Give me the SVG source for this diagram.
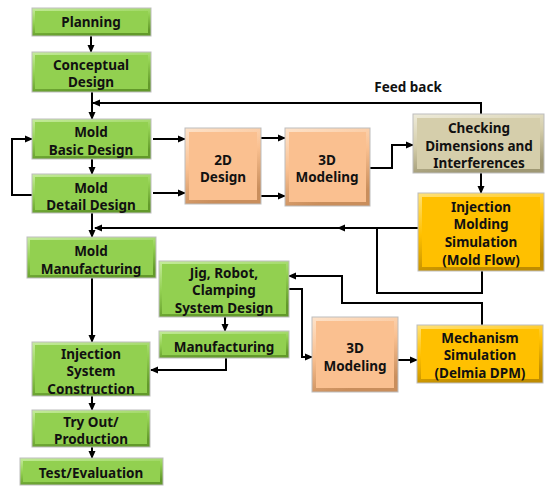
<svg xmlns="http://www.w3.org/2000/svg" width="545" height="486" viewBox="0 0 545 486">
<style>
.t{font-family:"Noto Sans","Open Sans","Liberation Sans",sans-serif;font-weight:bold;font-size:13.5px;fill:#111;text-anchor:middle}
.c{fill:none;stroke:#000;stroke-width:2}
.a{marker-end:url(#ah)}
.in{stroke:none}
.g .o{fill:url(#gg)} .g .in{fill:#92D050}
.or .o{fill:url(#go)} .or .in{fill:#FAC090}
.tn .o{fill:url(#gt)} .tn .in{fill:#D5CEAB}
.y .o{fill:url(#gy)} .y .in{fill:#FFC000}
.o{stroke:#bdbdbd;stroke-width:1}
</style>
<defs>
<marker id="ah" markerWidth="8" markerHeight="8" refX="7" refY="4" orient="auto" markerUnits="userSpaceOnUse">
<path d="M0,0.5 L8,4 L0,7.5 Z" fill="#000"/>
</marker>
<linearGradient id="gg" x1="0" y1="0" x2="0.3" y2="1"><stop offset="0" stop-color="#C6EC9E"/><stop offset="0.5" stop-color="#92D050"/><stop offset="1" stop-color="#62992A"/></linearGradient>
<linearGradient id="go" x1="0" y1="0" x2="0.3" y2="1"><stop offset="0" stop-color="#FDE3CB"/><stop offset="0.5" stop-color="#FAC090"/><stop offset="1" stop-color="#C98E5C"/></linearGradient>
<linearGradient id="gt" x1="0" y1="0" x2="0.3" y2="1"><stop offset="0" stop-color="#EEEBDA"/><stop offset="0.5" stop-color="#D5CEAB"/><stop offset="1" stop-color="#9F9874"/></linearGradient>
<linearGradient id="gy" x1="0" y1="0" x2="0.3" y2="1"><stop offset="0" stop-color="#FFE27A"/><stop offset="0.5" stop-color="#FFC000"/><stop offset="1" stop-color="#BF8C00"/></linearGradient>
</defs>
<rect width="545" height="486" fill="#fff"/>

<g id="connectors">
<path class="c a" d="M91,36 V52"/>
<path class="c a" d="M92,92 V119"/>
<path class="c a" d="M481,114 V103 H93"/>
<path class="c a" d="M92,159 V174"/>
<path class="c a" d="M32,195 H12 V139 H32"/>
<path class="c a" d="M153,139 H185"/>
<path class="c a" d="M153,193 H185"/>
<path class="c a" d="M261,138 H285"/>
<path class="c a" d="M261,196 H285"/>
<path class="c a" d="M370,168 H392 V145 H413"/>
<path class="c a" d="M481,173 V193"/>
<path class="c a" d="M418,228 H338"/>
<path class="c a" d="M339,228 H95"/>
<path class="c" d="M482,271 V293 H377 V228"/>
<path class="c a" d="M92,213 V237"/>
<path class="c a" d="M92,278 V342"/>
<path class="c a" d="M225,317 V331"/>
<path class="c a" d="M226,358 V370 H151"/>
<path class="c a" d="M92,396 V410"/>
<path class="c a" d="M92,447 V458"/>
<path class="c a" d="M482,325 V303 H342 V276 H289"/>
<path class="c a" d="M289,289 H302 V357 H312"/>
<path class="c a" d="M398,360 H417"/>
</g>

<text class="t" x="408" y="92">Feed back</text>

<g id="planning" class="g"><rect class="o" x="32" y="8" width="119" height="28"/><rect class="in" x="35" y="11" width="113" height="22"/><text class="t" x="91" y="27">Planning</text></g>
<g id="conceptual" class="g"><rect class="o" x="32" y="52" width="119" height="40"/><rect class="in" x="35" y="55" width="113" height="34"/><text class="t" x="91" y="70">Conceptual</text><text class="t" x="91" y="87">Design</text></g>
<g id="basic" class="g"><rect class="o" x="32" y="119" width="119" height="40"/><rect class="in" x="35" y="122" width="113" height="34"/><text class="t" x="91" y="137">Mold</text><text class="t" x="91" y="155">Basic Design</text></g>
<g id="detail" class="g"><rect class="o" x="32" y="174" width="119" height="39"/><rect class="in" x="35" y="177" width="113" height="33"/><text class="t" x="91" y="193">Mold</text><text class="t" x="91" y="210">Detail Design</text></g>
<g id="design2d" class="or"><rect class="o" x="185" y="128" width="76" height="76"/><rect class="in" x="189" y="132" width="68" height="68"/><text class="t" x="223" y="165">2D</text><text class="t" x="223" y="182">Design</text></g>
<g id="model3d1" class="or"><rect class="o" x="285" y="128" width="85" height="78"/><rect class="in" x="289" y="132" width="77" height="70"/><text class="t" x="327" y="165">3D</text><text class="t" x="327" y="182">Modeling</text></g>
<g id="checking" class="tn"><rect class="o" x="413" y="114" width="131" height="59"/><rect class="in" x="417" y="118" width="123" height="51"/><text class="t" x="479" y="133">Checking</text><text class="t" x="479" y="151">Dimensions and</text><text class="t" x="479" y="168">Interferences</text></g>
<g id="ims" class="y"><rect class="o" x="418" y="193" width="126" height="78"/><rect class="in" x="422" y="197" width="118" height="70"/><text class="t" x="481" y="212">Injection</text><text class="t" x="481" y="229">Molding</text><text class="t" x="481" y="247">Simulation</text><text class="t" x="481" y="265">(Mold Flow)</text></g>
<g id="moldmfg" class="g"><rect class="o" x="27" y="237" width="129" height="41"/><rect class="in" x="30" y="240" width="123" height="35"/><text class="t" x="91" y="256">Mold</text><text class="t" x="91" y="274">Manufacturing</text></g>
<g id="jig" class="g"><rect class="o" x="159" y="261" width="130" height="56"/><rect class="in" x="162" y="264" width="124" height="50"/><text class="t" x="224" y="278">Jig, Robot,</text><text class="t" x="224" y="295">Clamping</text><text class="t" x="224" y="313">System Design</text></g>
<g id="mfg" class="g"><rect class="o" x="159" y="331" width="130" height="27"/><rect class="in" x="162" y="334" width="124" height="21"/><text class="t" x="224" y="352">Manufacturing</text></g>
<g id="isc" class="g"><rect class="o" x="32" y="342" width="118" height="54"/><rect class="in" x="35" y="345" width="112" height="48"/><text class="t" x="91" y="359">Injection</text><text class="t" x="91" y="376">System</text><text class="t" x="91" y="394">Construction</text></g>
<g id="tryout" class="g"><rect class="o" x="32" y="410" width="118" height="37"/><rect class="in" x="35" y="413" width="112" height="31"/><text class="t" x="91" y="427">Try Out/</text><text class="t" x="91" y="444">Production</text></g>
<g id="test" class="g"><rect class="o" x="20" y="458" width="143" height="27"/><rect class="in" x="23" y="461" width="137" height="21"/><text class="t" x="91" y="478">Test/Evaluation</text></g>
<g id="model3d2" class="or"><rect class="o" x="312" y="317" width="86" height="75"/><rect class="in" x="316" y="321" width="78" height="67"/><text class="t" x="355" y="353">3D</text><text class="t" x="355" y="371">Modeling</text></g>
<g id="mech" class="y"><rect class="o" x="417" y="325" width="126" height="58"/><rect class="in" x="421" y="329" width="118" height="50"/><text class="t" x="480" y="343">Mechanism</text><text class="t" x="480" y="360">Simulation</text><text class="t" x="480" y="378">(Delmia DPM)</text></g>
</svg>
